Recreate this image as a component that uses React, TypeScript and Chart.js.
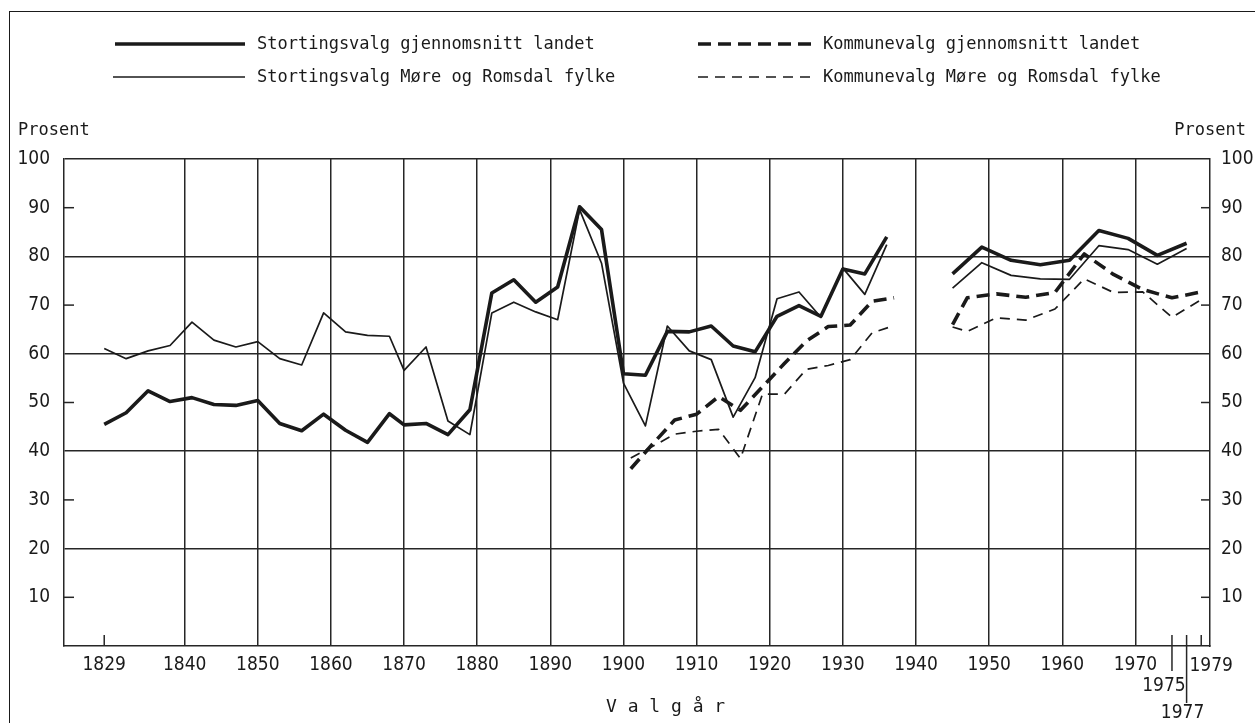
import { useEffect, useRef } from "react";
import { Chart, registerables } from "chart.js";

Chart.register(...registerables);

// ---- data ----
const stortingYears = [
  1829, 1832, 1835, 1838, 1841, 1844, 1847, 1850, 1853, 1856,
  1859, 1862, 1865, 1868, 1870, 1873, 1876, 1879, 1882, 1885,
  1888, 1891, 1894, 1897, 1900, 1903, 1906, 1909, 1912, 1915,
  1918, 1921, 1924, 1927, 1930, 1933, 1936,
  1945, 1949, 1953, 1957, 1961, 1965, 1969, 1973, 1977,
];
const stortingLandet = [
  45.5, 47.9, 52.4, 50.2, 51.0, 49.6, 49.4, 50.4, 45.7, 44.2,
  47.6, 44.3, 41.8, 47.7, 45.4, 45.7, 43.4, 48.5, 72.5, 75.2,
  70.6, 73.7, 90.2, 85.5, 55.9, 55.6, 64.6, 64.5, 65.7, 61.6,
  60.4, 67.7, 69.9, 67.7, 77.4, 76.4, 84.0,
  76.4, 81.9, 79.2, 78.3, 79.2, 85.3, 83.7, 80.2, 82.7,
];
const stortingMore = [
  61.1, 59.0, 60.6, 61.7, 66.5, 62.8, 61.4, 62.5, 59.0, 57.7,
  68.4, 64.5, 63.8, 63.6, 56.6, 61.4, 46.2, 43.4, 68.4, 70.6,
  68.6, 67.0, 89.6, 78.6, 54.0, 45.2, 65.7, 60.6, 58.8, 47.0,
  55.1, 71.3, 72.7, 67.5, 77.6, 72.2, 82.4,
  73.5, 78.7, 76.1, 75.4, 75.3, 82.2, 81.4, 78.4, 81.6,
];
const kommuneYears = [
  1901, 1904, 1907, 1910, 1913, 1916, 1919, 1922, 1925, 1928, 1931, 1934, 1937,
  1945, 1947, 1951, 1955, 1959, 1963, 1967, 1971, 1975, 1979,
];
const kommuneLandet = [
  36.4, 41.5, 46.4, 47.6, 51.2, 48.4, 53.2, 58.0, 62.6, 65.6, 65.9, 70.8, 71.5,
  66.0, 71.5, 72.3, 71.6, 72.6, 80.5, 76.3, 73.2, 71.5, 72.7,
];
const kommuneMore = [
  38.6, 41.0, 43.5, 44.1, 44.5, 38.5, 51.7, 51.7, 56.8, 57.6, 58.8, 64.3, 65.8,
  65.5, 64.6, 67.4, 66.9, 69.2, 75.4, 72.6, 72.7, 67.5, 71.1,
];
const seriesLabels = [
  "Stortingsvalg gjennomsnitt landet",
  "Stortingsvalg Møre og Romsdal fylke",
  "Kommunevalg gjennomsnitt landet",
  "Kommunevalg Møre og Romsdal fylke",
];
const xTickYears = [
  1829, 1840, 1850, 1860, 1870, 1880, 1890, 1900, 1910, 1920, 1930, 1940,
  1950, 1960, 1970, 1975, 1977, 1979,
];
const xGridYears = [
  1840, 1850, 1860, 1870, 1880, 1890, 1900, 1910, 1920, 1930, 1940, 1950,
  1960, 1970,
];
const xLowLabelYears = [1975, 1977, 1979];
const yGridValues = [20, 40, 60, 80, 100];
const yStubValues = [10, 30, 50, 70, 90];

// ---- styles ----
const INK = "#1a1a1a";
const GRID = "#262626";
const NUM_FONT = "'Liberation Sans Narrow', 'DejaVu Sans Condensed', 'Arial Narrow', sans-serif";
const NUM_SIZE = 19;
const MONO_FONT = "'DejaVu Sans Mono', 'Liberation Mono', monospace";

const lowLabelPos: Record<number, { dx: number; y: number; tickDown: number }> = {
  1975: { dx: -8, y: 686, tickDown: 25 },
  1977: { dx: -4, y: 713, tickDown: 57 },
  1979: { dx: 10, y: 666, tickDown: 0 },
};

const decorPlugin = {
  id: "decor",
  afterDraw(chart: any) {
    const ctx = chart.ctx as CanvasRenderingContext2D;
    const { left, right, bottom } = chart.chartArea;
    const ys = chart.scales.y;
    const xs = chart.scales.x;
    const seg = (x1: number, y1: number, x2: number, y2: number) => {
      ctx.beginPath();
      ctx.moveTo(x1, y1);
      ctx.lineTo(x2, y2);
      ctx.stroke();
    };
    ctx.save();
    ctx.strokeStyle = GRID;
    ctx.lineWidth = 1.5;
    ctx.setLineDash([]);
    // inner ticks on both y axes
    yStubValues.forEach((v) => {
      const py = ys.getPixelForValue(v);
      seg(left, py, left + 10, py);
      seg(right - 9, py, right, py);
    });
    // x stubs
    const p1829 = xs.getPixelForValue(1829);
    seg(p1829, bottom - 11, p1829, bottom);
    ctx.fillStyle = INK;
    ctx.font = `${NUM_SIZE}px ${NUM_FONT}`;
    ctx.textAlign = "center";
    ctx.textBaseline = "middle";
    xLowLabelYears.forEach((yr) => {
      const px = xs.getPixelForValue(yr);
      const cfg = lowLabelPos[yr];
      seg(px, bottom - 11, px, bottom + cfg.tickDown);
      ctx.fillText(String(yr), px + cfg.dx, cfg.y);
    });

    // legend
    const dsets = chart.data.datasets;
    const legendPos = [
      { x1: 115, x2: 245, tx: 257, y: 44 },
      { x1: 113, x2: 245, tx: 257, y: 77 },
      { x1: 698, x2: 813, tx: 823, y: 44 },
      { x1: 698, x2: 814, tx: 823, y: 77 },
    ];
    ctx.font = `17px ${MONO_FONT}`;
    ctx.textAlign = "left";
    dsets.forEach((ds: any, i: number) => {
      const p = legendPos[i];
      ctx.strokeStyle = ds.borderColor;
      ctx.lineWidth = ds.borderWidth;
      ctx.setLineDash(ds.borderDash || []);
      seg(p.x1, p.y, p.x2, p.y);
      ctx.setLineDash([]);
      ctx.fillText(ds.label, p.tx, p.y + 1);
    });
    ctx.restore();
  },
};

const toPoints = (xs: number[], vs: number[]) => xs.map((x, i) => ({ x, y: vs[i] }));

export default function App() {
  const ref = useRef<HTMLCanvasElement | null>(null);

  useEffect(() => {
    if (!ref.current) return;
    const chart = new Chart(ref.current, {
      type: "line",
      data: {
        datasets: [
          {
            label: seriesLabels[0],
            data: toPoints(stortingYears, stortingLandet),
            borderColor: INK,
            borderWidth: 3.6,
            borderDash: [],
          },
          {
            label: seriesLabels[1],
            data: toPoints(stortingYears, stortingMore),
            borderColor: INK,
            borderWidth: 1.7,
            borderDash: [],
          },
          {
            label: seriesLabels[2],
            data: toPoints(kommuneYears, kommuneLandet),
            borderColor: INK,
            borderWidth: 3.6,
            borderDash: [13, 7],
          },
          {
            label: seriesLabels[3],
            data: toPoints(kommuneYears, kommuneMore),
            borderColor: INK,
            borderWidth: 1.7,
            borderDash: [10, 7],
          },
        ] as any,
      },
      plugins: [decorPlugin],
      options: {
        animation: false,
        responsive: false,
        devicePixelRatio: 1,
        spanGaps: 5,
        elements: {
          point: { radius: 0, hoverRadius: 0 },
          line: { tension: 0, borderJoinStyle: "round", borderCapStyle: "butt" },
        },
        layout: { padding: { top: 159, left: 0, right: 0, bottom: 0 } },
        plugins: {
          legend: { display: false },
          tooltip: { enabled: false },
          title: { display: false },
        },
        events: [],
        scales: {
          x: {
            type: "linear",
            position: "bottom",
            min: 1823.5,
            max: 1980.2,
            afterBuildTicks: (scale: any) => {
              scale.ticks = xTickYears.map((v) => ({ value: v }));
            },
            afterFit: (scale: any) => {
              scale.height = 77;
            },
            grid: {
              drawTicks: false,
              lineWidth: 1.5,
              color: (c: any) =>
                c.tick && xGridYears.includes(c.tick.value) ? GRID : "rgba(0,0,0,0)",
            },
            border: { display: true, color: GRID, width: 1.5 },
            ticks: {
              autoSkip: false,
              maxRotation: 0,
              padding: 8,
              color: INK,
              font: { family: NUM_FONT, size: NUM_SIZE },
              callback: (v: any) => (xLowLabelYears.includes(Number(v)) ? "" : String(v)),
            },
          },
          y: {
            type: "linear",
            position: "left",
            min: 0,
            max: 100,
            afterFit: (scale: any) => {
              scale.width = 64;
            },
            grid: {
              drawTicks: false,
              lineWidth: 1.5,
              color: (c: any) =>
                c.tick && yGridValues.includes(c.tick.value) ? GRID : "rgba(0,0,0,0)",
            },
            border: { display: true, color: GRID, width: 1.5 },
            ticks: {
              stepSize: 10,
              padding: 14,
              color: INK,
              font: { family: NUM_FONT, size: NUM_SIZE },
              callback: (v: any) => (Number(v) === 0 ? "" : String(v)),
            },
          },
          y2: {
            type: "linear",
            position: "right",
            min: 0,
            max: 100,
            afterFit: (scale: any) => {
              scale.width = 45;
            },
            grid: { display: false, drawTicks: false },
            border: { display: true, color: GRID, width: 1.5 },
            ticks: {
              stepSize: 10,
              padding: 11,
              color: INK,
              font: { family: NUM_FONT, size: NUM_SIZE },
              callback: (v: any) => (Number(v) === 0 ? "" : String(v)),
            },
          },
        },
      } as any,
    });
    return () => chart.destroy();
  }, []);

  const textStyle: React.CSSProperties = {
    position: "absolute",
    fontFamily: MONO_FONT,
    fontSize: 17,
    lineHeight: "20px",
    color: INK,
    whiteSpace: "pre",
  };

  return (
    <div
      style={{
        position: "fixed",
        left: 0,
        top: 0,
        width: 1255,
        height: 723,
        background: "#fff",
        overflow: "hidden",
      }}
    >
      <div
        style={{
          position: "absolute",
          left: 9,
          top: 11,
          width: 1400,
          height: 900,
          borderLeft: `1.5px solid ${INK}`,
          borderTop: `1.5px solid ${INK}`,
        }}
      />
      <canvas
        ref={ref}
        width={1255}
        height={723}
        style={{ position: "absolute", left: 0, top: 0, width: 1255, height: 723 }}
      />
      <div style={{ ...textStyle, left: 18, top: 119 }}>Prosent</div>
      <div style={{ ...textStyle, right: 9, top: 119 }}>Prosent</div>
      <div style={{ ...textStyle, left: 606, top: 696, fontSize: 18 }}>V a l g å r</div>
    </div>
  );
}
